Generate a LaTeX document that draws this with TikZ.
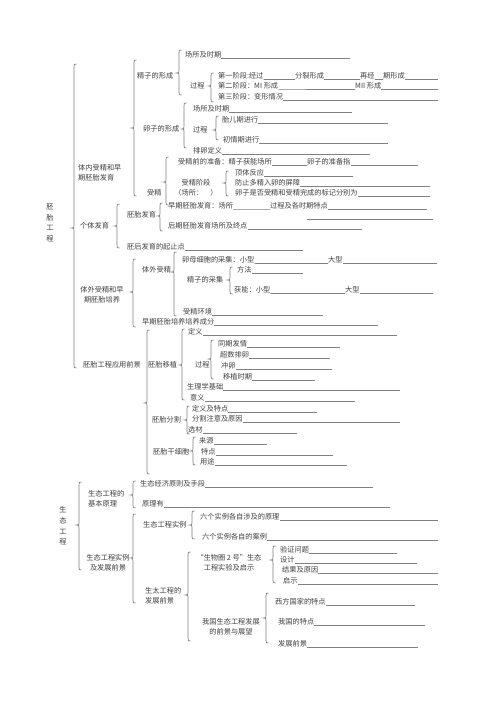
\documentclass[tikz,border=0pt]{standalone}
\usepackage{fontspec}
\setmainfont{Noto Sans CJK SC}
\definecolor{tx}{gray}{0.25}
\definecolor{ln}{gray}{0.5}
\tikzset{
 txt/.style={anchor=west,inner sep=0pt,font=\fontsize{7.2}{10}\selectfont,text=tx},
 tc/.style={txt,anchor=center,align=center},
 tl/.style={txt,align=left},
 uline/.style={draw=ln,line width=0.6pt},
 brc/.style={draw=ln,line width=0.7pt},
}
% brace: #1 x, #2 top, #3 cusp, #4 bottom
\newcommand\brc[4]{\draw[brc] ({#1+2.5},#2) .. controls (#1,#2) .. (#1,{#2+3}) -- (#1,{#3-3}) .. controls (#1,#3) .. ({#1-2.5},#3) .. controls (#1,#3) .. (#1,{#3+3}) -- (#1,{#4-3}) .. controls (#1,#4) .. ({#1+2.5},#4);}
\newcommand\uln[2]{\draw[uline] (#1.south east) -- (#2,0 |- #1.south east);}
\newcommand\ulto[2]{\draw[uline] (#1.south east) -- (#2.south west);}
\begin{document}
\begin{tikzpicture}[x=1pt,y=-1pt]
\path[use as bounding box,fill=white] (0,0) rectangle (500,709);

% ===== 胚胎工程 =====
\node[tc,font=\fontsize{7.2}{10.7}\selectfont] (pt) at (50,223) {胚\\胎\\工\\程};
\brc{74}{64}{228}{368}
\node[tl] (tn) at (78,173) {体内受精和早\\期胚胎发育};
\node[txt] (gt) at (80,226) {个体发育};
\node[tc] (tw) at (102,295) {体外受精和早\\期胚胎培养};
\node[txt] (yy) at (83,365) {胚胎工程应用前景};

% 体内受精和早期胚胎发育
\brc{134}{60}{128}{196}
\node[txt] (jz) at (137,76) {精子的形成};
\brc{179}{50}{73}{95}
\node[txt] (jz1) at (185,55) {场所及时期}; \uln{jz1}{350}
\node[txt] (jz2) at (190,86) {过程};
\brc{211}{73}{86}{102}
\node[txt] (s1a) at (218,76) {第一阶段:经过};
\node[txt] (s1b) at (295,76) {分裂形成};
\node[txt] (s1c) at (360,76) {再经};
\node[txt] (s1d) at (383,76) {期形成};
\ulto{s1a}{s1b} \ulto{s1b}{s1c} \ulto{s1c}{s1d} \uln{s1d}{438}
\node[txt] (s2a) at (218,86) {第二阶段：MI 形成};
\node[txt] (s2b) at (355,86) {MII 形成};
\ulto{s2a}{s2b} \uln{s2b}{438}
\node[txt] (s3a) at (218,97) {第三阶段：变形情况}; \uln{s3a}{438}

\node[txt] (lz) at (143,129) {卵子的形成};
\brc{184}{103}{129}{148}
\node[txt] (lz1) at (193,109) {场所及时期}; \uln{lz1}{352}
\node[txt] (lz2) at (193,130) {过程};
\brc{216}{116}{130}{140}
\node[txt] (lz2a) at (222,120) {胎儿期进行}; \uln{lz2a}{388}
\node[txt] (lz2b) at (223,140) {初情期进行}; \uln{lz2b}{388}
\node[txt] (lz3) at (193,151) {排卵定义}; \uln{lz3}{370}

\node[txt] (sj) at (147,193) {受精};
\brc{166}{157}{182}{205}
\node[txt] (sj1a) at (178,162) {受精前的准备：精子获能场所};
\node[txt] (sj1b) at (307,162) {卵子的准备指};
\ulto{sj1a}{sj1b} \uln{sj1b}{418}
\node[tc] (sj2) at (196,188) {受精阶段\\（场所：　）};
\brc{226}{171}{183}{196}
\node[txt] (sj2a) at (235,173) {顶体反应}; \uln{sj2a}{353}
\node[txt] (sj2b) at (235,183) {防止多精入卵的屏障}; \uln{sj2b}{430}
\node[txt] (sj2c) at (235,193) {卵子是否受精和受精完成的标记分别为}; \uln{sj2c}{430}

% 个体发育
\brc{117}{204}{226}{248}
\node[txt] (pf) at (127,215) {胚胎发育};
\brc{160}{203}{216}{231}
\node[txt] (pf1a) at (168,206) {早期胚胎发育：场所};
\node[txt] (pf1b) at (270,206) {过程及各时期特点};
\ulto{pf1a}{pf1b} \uln{pf1b}{427}
\coordinate (fa) at (307,219); \coordinate (fb) at (433,219);
\draw[uline] (fa) -- (fb);
\node[txt] (pf2) at (168,226) {后期胚胎发育场所及终点}; \uln{pf2}{362}
\node[txt] (ph) at (127,247) {胚后发育的起止点}; \uln{ph}{303}

% 体外受精和早期胚胎培养
\brc{133}{259}{292}{327}
\node[txt] (wj) at (142,270) {体外受精};
\brc{174}{252}{272}{316}
\node[txt] (wj1a) at (182,260) {卵母细胞的采集：小型};
\node[txt] (wj1b) at (328,260) {大型};
\ulto{wj1a}{wj1b} \uln{wj1b}{437}
\node[txt] (wj2) at (187,280) {精子的采集};
\brc{230}{267}{280}{294}
\node[txt] (wj2a) at (237,270) {方法}; \uln{wj2a}{303}
\node[txt] (wj2b) at (234,290) {获能：小型};
\node[txt] (wj2c) at (345,290) {大型};
\ulto{wj2b}{wj2c} \uln{wj2c}{433}
\node[txt] (wj3) at (183,312) {受精环境}; \uln{wj3}{323}
\node[txt] (py) at (142,322) {早期胚胎培养培养成分}; \uln{py}{378}

% 胚胎工程应用前景
\brc{147}{330}{403}{474}
\node[txt] (yz) at (148,365) {胚胎移植};
\brc{182}{329}{365}{400}
\node[txt] (yz1) at (188,332) {定义}; \uln{yz1}{397}
\node[txt] (yz2) at (195,365) {过程};
\brc{211}{340}{359}{379}
\node[txt] (yz2a) at (218,344) {同期发情}; \uln{yz2a}{340}
\node[txt] (yz2b) at (220,355) {超数排卵}; \uln{yz2b}{330}
\node[txt] (yz2c) at (221,366) {冲卵}; \uln{yz2c}{332}
\node[txt] (yz2d) at (223,377) {移植时期}; \uln{yz2d}{315}
\node[txt] (yz3) at (187,387) {生理学基础}; \uln{yz3}{400}
\node[txt] (yz4) at (190,398) {意义}; \uln{yz4}{355}

\node[txt] (fg) at (152,420) {胚胎分割};
\brc{187}{406}{420}{434}
\node[txt] (fg1) at (192,409) {定义及特点}; \uln{fg1}{317}
\node[txt] (fg2) at (192,419) {分割注意及原因}; \uln{fg2}{400}
\node[txt] (fg3) at (188,430) {选材}; \uln{fg3}{297}

\node[txt] (gx) at (153,452) {胚胎干细胞};
\brc{193}{437}{451}{465}
\node[txt] (gx1) at (199,441) {来源}; \uln{gx1}{267}
\node[txt] (gx2) at (201,452) {特点}; \uln{gx2}{333}
\node[txt] (gx3) at (200,462) {用途}; \uln{gx3}{347}

% ===== 生态工程 =====
\node[tc,font=\fontsize{7.2}{10.7}\selectfont] (st) at (63,526) {生\\态\\工\\程};
\brc{79}{482}{525}{570}
\node[tl] (jb) at (88,499) {生态工程的\\基本原理};
\brc{133}{481}{495}{508}
\node[txt] (jb1) at (140,484) {生态经济原则及手段}; \uln{jb1}{373}
\node[txt] (jb2) at (142,504) {原理有}; \uln{jb2}{390}

\node[tc] (sl) at (108,563) {生态工程实例\\及发展前景};
\brc{133}{514}{558}{603}
\node[txt] (sl1) at (143,525) {生态工程实例};
\brc{192}{511}{525}{539}
\node[txt] (sl1a) at (200,517) {六个实例各自涉及的原理}; \uln{sl1a}{438}
\node[txt] (sl1b) at (202,537) {六个实例各自的案例}; \uln{sl1b}{438}

\node[tl] (fz) at (145,596) {生太工程的\\发展前景};
\brc{188}{552}{595}{641}
\node[tc] (sw) at (229,563) {“生物圈 2 号”生态\\工程实验及启示};
\brc{273}{546}{560}{583}
\node[txt] (sw1) at (280,550) {验证问题}; \uln{sw1}{397}
\node[txt] (sw2) at (280,560) {设计}; \uln{sw2}{417}
\node[txt] (sw3) at (282,570) {结果及原因}; \uln{sw3}{438}
\node[txt] (sw4) at (283,581) {启示}; \uln{sw4}{438}

\node[tc] (wg) at (231,627) {我国生态工程发展\\的前景与展望};
\brc{266}{593}{618}{643}
\node[txt] (wg1) at (275,602) {西方国家的特点}; \uln{wg1}{415}
\node[txt] (wg2) at (278,622) {我国的特点}; \uln{wg2}{425}
\node[txt] (wg3) at (278,644) {发展前景}; \uln{wg3}{418}
\end{tikzpicture}
\end{document}
